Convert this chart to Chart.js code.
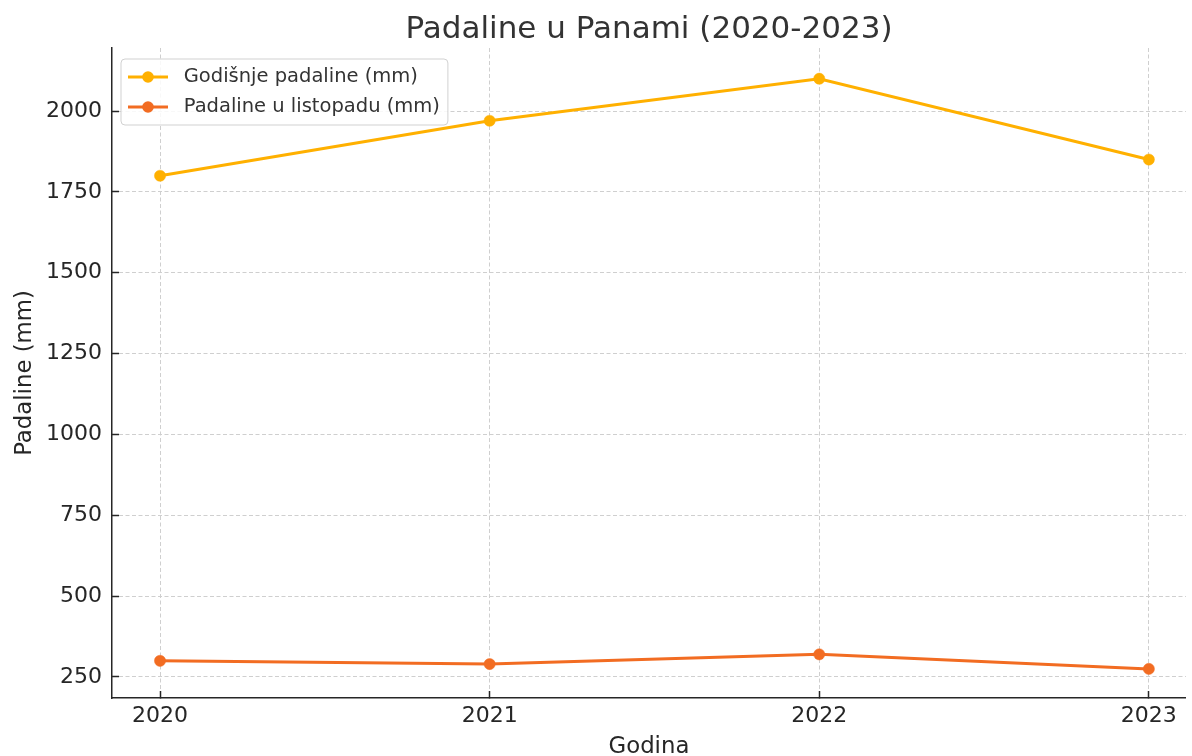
<!DOCTYPE html>
<html>
<head>
<meta charset="utf-8">
<script src="https://cdn.jsdelivr.net/npm/chart.js@4.4.1/dist/chart.umd.min.js"></script>
<style>
html, body { margin: 0; padding: 0; background: #ffffff; overflow: hidden; }
#c { display: block; width: 1192px; height: 756px; }
</style>
</head>
<body>
<canvas id="c" width="1192" height="756"></canvas>
<script>
// ---- data ----
const years = [2020, 2021, 2022, 2023];
const annualRain = [1800, 1970, 2100, 1850];
const octoberRain = [300, 290, 320, 275];
const yTickValues = [250, 500, 750, 1000, 1250, 1500, 1750, 2000];
const seriesLabels = ['Godišnje padaline (mm)', 'Padaline u listopadu (mm)'];
const chartTitle = 'Padaline u Panami (2020-2023)';
const xAxisTitle = 'Godina';
const yAxisTitle = 'Padaline (mm)';

// ---- styles ----
const seriesColors = ['#ffb000', '#f26c22'];
const FONT = "'DejaVu Sans', sans-serif";
const TEXT = '#262626';

function makeIcon(color) {
  const cv = document.createElement('canvas');
  cv.width = 40; cv.height = 14;
  const g = cv.getContext('2d');
  g.strokeStyle = color; g.lineWidth = 3;
  g.beginPath(); g.moveTo(0, 7); g.lineTo(40, 7); g.stroke();
  g.fillStyle = color;
  g.beginPath(); g.arc(20, 7, 5.8, 0, Math.PI * 2); g.fill();
  return cv;
}
const icons = seriesColors.map(makeIcon);

const legendPlugin = {
  id: 'legendPlacer',
  afterLayout(chart) {
    const lg = chart.legend;
    if (!lg) return;
    if (!lg.__patched) {
      lg.__patched = true;
      lg.draw = function () {};
    }
    const w = lg.width;
    lg.left = 111.5; lg.top = 56.75;
    lg.right = lg.left + w; lg.bottom = lg.top + 400;
  },
  afterDatasetsDraw(chart) {
    const lg = chart.legend;
    if (!lg) return;
    const ctx = chart.ctx;
    ctx.save();
    ctx.font = '19.5px ' + FONT;
    let maxW = 0;
    seriesLabels.forEach(t => { maxW = Math.max(maxW, ctx.measureText(t).width); });
    const x0 = 121, y0 = 59;
    const x1 = 183.75 + maxW + 8, y1 = 125;
    const r = 4;
    ctx.beginPath();
    ctx.moveTo(x0 + r, y0);
    ctx.lineTo(x1 - r, y0); ctx.quadraticCurveTo(x1, y0, x1, y0 + r);
    ctx.lineTo(x1, y1 - r); ctx.quadraticCurveTo(x1, y1, x1 - r, y1);
    ctx.lineTo(x0 + r, y1); ctx.quadraticCurveTo(x0, y1, x0, y1 - r);
    ctx.lineTo(x0, y0 + r); ctx.quadraticCurveTo(x0, y0, x0 + r, y0);
    ctx.closePath();
    ctx.fillStyle = 'rgba(255,255,255,0.85)';
    ctx.fill();
    ctx.strokeStyle = 'rgba(204,204,204,0.9)';
    ctx.lineWidth = 1;
    ctx.stroke();
    ctx.restore();
    Object.getPrototypeOf(lg).draw.call(lg);
  }
};

const makeData = (vals) => years.map((yr, i) => ({ x: yr, y: vals[i] }));

new Chart(document.getElementById('c'), {
  type: 'line',
  data: {
    datasets: [
      {
        label: seriesLabels[0],
        data: makeData(annualRain),
        borderColor: seriesColors[0],
        backgroundColor: seriesColors[0],
        borderWidth: 3,
        pointRadius: 5.6,
        pointBorderWidth: 0.5,
        pointBackgroundColor: seriesColors[0],
        pointBorderColor: seriesColors[0],
        tension: 0,
        fill: false
      },
      {
        label: seriesLabels[1],
        data: makeData(octoberRain),
        borderColor: seriesColors[1],
        backgroundColor: seriesColors[1],
        borderWidth: 3,
        pointRadius: 5.6,
        pointBorderWidth: 0.5,
        pointBackgroundColor: seriesColors[1],
        pointBorderColor: seriesColors[1],
        tension: 0,
        fill: false
      }
    ]
  },
  options: {
    responsive: false,
    maintainAspectRatio: false,
    animation: false,
    devicePixelRatio: 1,
    layout: { padding: { left: 0, right: 0, top: 0, bottom: 0 } },
    plugins: {
      title: {
        display: true,
        text: chartTitle,
        fullSize: false,
        color: '#333333',
        font: { family: FONT, size: 31, weight: 'normal', lineHeight: 1.2 },
        padding: { top: 11, bottom: -0.2 }
      },
      legend: {
        display: true,
        position: 'chartArea',
        align: 'start',
        labels: {
          usePointStyle: true,
          pointStyleWidth: 52,
          boxHeight: 19.5,
          padding: 10.5,
          color: '#333333',
          font: { family: FONT, size: 19.5 },
          generateLabels: (chart) => chart.data.datasets.map((ds, i) => ({
            text: ds.label,
            pointStyle: icons[i],
            fillStyle: seriesColors[i],
            strokeStyle: seriesColors[i],
            lineWidth: 0,
            hidden: false,
            datasetIndex: i,
            fontColor: '#333333'
          }))
        }
      },
      tooltip: { enabled: false }
    },
    scales: {
      x: {
        type: 'linear',
        min: 2019.8543,
        max: 2023.1124,
        afterBuildTicks: (scale) => { scale.ticks = years.map(v => ({ value: v })); },
        afterFit: (scale) => { scale.height = 58; scale.paddingLeft = 0; scale.paddingRight = 0; },
        ticks: {
          color: TEXT,
          font: { family: FONT, size: 22 },
          padding: 12,
          maxRotation: 0,
          autoSkip: false,
          callback: (v) => String(v)
        },
        grid: {
          color: '#cfcfcf',
          lineWidth: 1,
          drawTicks: true,
          tickLength: -7,
          tickColor: '#262626',
          tickWidth: 1.5,
          z: -1
        },
        border: { display: true, color: '#262626', width: 1.5, dash: [4, 2.5] },
        title: {
          display: true,
          text: xAxisTitle,
          color: TEXT,
          font: { family: FONT, size: 22.8, lineHeight: 1 },
          padding: { top: 0, bottom: -2 }
        }
      },
      y: {
        type: 'linear',
        min: 185,
        max: 2195,
        afterBuildTicks: (scale) => { scale.ticks = yTickValues.map(v => ({ value: v })); },
        afterFit: (scale) => { scale.width = 112; },
        ticks: {
          color: TEXT,
          font: { family: FONT, size: 22 },
          padding: 17,
          autoSkip: false,
          callback: (v) => String(v)
        },
        grid: {
          color: '#cfcfcf',
          lineWidth: 1,
          drawTicks: true,
          tickLength: -7,
          tickColor: '#262626',
          tickWidth: 1.5,
          z: -1
        },
        border: { display: true, color: '#262626', width: 1.5, dash: [4, 2.5] },
        title: {
          display: true,
          text: yAxisTitle,
          color: TEXT,
          font: { family: FONT, size: 22.8, lineHeight: 1.2 },
          padding: { top: 11, bottom: 0 }
        }
      }
    }
  },
  plugins: [legendPlugin]
});
</script>
</body>
</html>
